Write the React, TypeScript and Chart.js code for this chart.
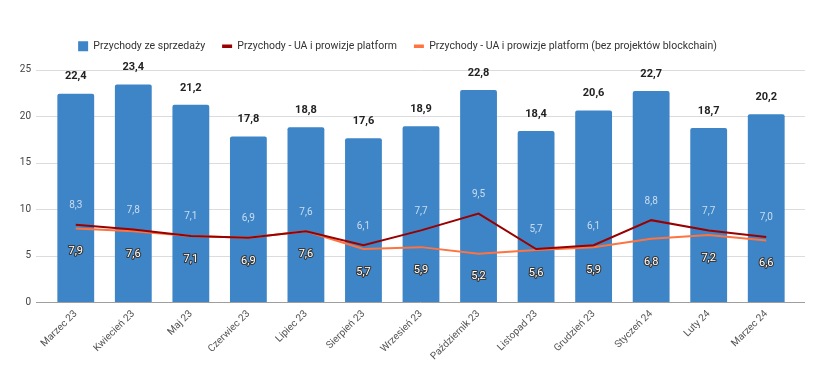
import React, { useEffect, useRef } from "react";
import { Chart, registerables } from "chart.js";

Chart.register(...registerables);

const categories = [
  "Marzec 23", "Kwiecień 23", "Maj 23", "Czerwiec 23", "Lipiec 23", "Sierpień 23",
  "Wrzesień 23", "Październik 23", "Listopad 23", "Grudzień 23", "Styczeń 24", "Luty 24", "Marzec 24",
];
const salesRevenue = [22.4, 23.4, 21.2, 17.8, 18.8, 17.6, 18.9, 22.8, 18.4, 20.6, 22.7, 18.7, 20.2];
const uaRevenue = [8.3, 7.8, 7.1, 6.9, 7.6, 6.1, 7.7, 9.5, 5.7, 6.1, 8.8, 7.7, 7.0];
const uaRevenueNoBlockchain = [7.9, 7.6, 7.1, 6.9, 7.6, 5.7, 5.9, 5.2, 5.6, 5.9, 6.8, 7.2, 6.6];
const yTicks = [0, 5, 10, 15, 20, 25];

const seriesNames = [
  "Przychody ze sprzedaży",
  "Przychody - UA i prowizje platform",
  "Przychody - UA i prowizje platform (bez projektów blockchain)",
];

const fmt = (v: number) => v.toFixed(1).replace(".", ",");
const FONT = "Roboto, 'Liberation Sans', Arial, sans-serif";

const gridPlugin = {
  id: "extGrid",
  beforeDatasetsDraw(chart: any) {
    const { ctx, chartArea, scales } = chart;
    const y = scales.y;
    ctx.save();
    for (const t of yTicks) {
      const py = Math.round(y.getPixelForValue(t)) + 0.5;
      ctx.beginPath();
      ctx.strokeStyle = t === 0 ? "#9e9e9e" : "#dcdcdc";
      ctx.lineWidth = 1;
      ctx.moveTo(chartArea.left - 11, py);
      ctx.lineTo(chartArea.right + 10, py);
      ctx.stroke();
    }
    ctx.restore();
  },
};

const labelPlugin = {
  id: "valueLabels",
  afterDatasetsDraw(chart: any) {
    const { ctx } = chart;
    ctx.save();
    ctx.textAlign = "center";
    ctx.textBaseline = "middle";
    const m0 = chart.getDatasetMeta(0);
    ctx.font = `bold 11px ${FONT}`;
    ctx.fillStyle = "#222222";
    m0.data.forEach((el: any, i: number) => {
      ctx.fillText(fmt(salesRevenue[i]), el.x, el.y - 17);
    });
    const m1 = chart.getDatasetMeta(1);
    ctx.font = `10px ${FONT}`;
    ctx.fillStyle = "rgba(225,234,248,0.85)";
    m1.data.forEach((el: any, i: number) => {
      ctx.fillText(fmt(uaRevenue[i]), el.x, el.y - 19);
    });
    const m2 = chart.getDatasetMeta(2);
    ctx.font = `11px ${FONT}`;
    ctx.lineJoin = "round";
    m2.data.forEach((el: any, i: number) => {
      const txt = fmt(uaRevenueNoBlockchain[i]);
      ctx.strokeStyle = "#3a3a3a";
      ctx.lineWidth = 2.2;
      ctx.strokeText(txt, el.x, el.y + 23);
      ctx.fillStyle = "#ffffff";
      ctx.fillText(txt, el.x, el.y + 23);
    });
    ctx.restore();
  },
};

export default function App() {
  const ref = useRef<HTMLCanvasElement | null>(null);
  useEffect(() => {
    document.body.style.margin = "0";
    if (!ref.current) return;
    const chart = new Chart(ref.current, {
      type: "bar",
      data: {
        labels: categories,
        datasets: [
          {
            type: "bar",
            label: seriesNames[0],
            data: salesRevenue,
            backgroundColor: "#3d85c6",
            borderRadius: 2,
            barPercentage: 0.64,
            categoryPercentage: 1,
            order: 3,
            pointStyle: "rect",
          } as any,
          {
            type: "line",
            label: seriesNames[1],
            data: uaRevenue,
            borderColor: "#990000",
            backgroundColor: "#990000",
            borderWidth: 2,
            pointRadius: 0,
            tension: 0,
            order: 1,
            pointStyle: "line",
          },
          {
            type: "line",
            label: seriesNames[2],
            data: uaRevenueNoBlockchain,
            borderColor: "#ff7340",
            backgroundColor: "#ff7340",
            borderWidth: 2,
            pointRadius: 0,
            tension: 0,
            order: 2,
            pointStyle: "line",
          },
        ],
      },
      options: {
        responsive: false,
        animation: false,
        layout: { padding: { top: 24, right: 18, left: 0, bottom: 0 } },
        plugins: {
          tooltip: { enabled: false },
          legend: {
            position: "top",
            labels: {
              usePointStyle: true,
              boxHeight: 10,
              pointStyleWidth: 10,
              padding: 17,
              color: "#333333",
              font: { family: FONT, size: 10.5 },
              sort: (a: any, b: any) => a.datasetIndex - b.datasetIndex,
              generateLabels: (c: any) => {
                const items = Chart.defaults.plugins.legend.labels.generateLabels(c);
                return items.map((it: any) =>
                  it.pointStyle === "line" ? { ...it, lineWidth: 3.5 } : { ...it, lineWidth: 0 }
                );
              },
            },
          },
        },
        scales: {
          x: {
            grid: { display: false, drawTicks: false },
            border: { display: false },
            afterFit: (s: any) => { s.height = 67; },
            ticks: {
              color: "#555555",
              font: { family: FONT, size: 10 },
              minRotation: 45,
              maxRotation: 45,
              autoSkip: false,
              padding: 6,
            },
          },
          xTop: {
            type: "category",
            position: "top",
            display: true,
            grid: { display: false, drawTicks: false },
            border: { display: false },
            ticks: { display: false },
            afterFit: (s: any) => { s.height = 8; },
          },
          y: {
            min: 0,
            max: 25,
            afterFit: (s: any) => { s.width = 47; },
            grid: { display: false, drawTicks: false },
            border: { display: false },
            ticks: {
              stepSize: 5,
              padding: 16,
              color: "#444444",
              font: { family: FONT, size: 10 },
            },
          },
        },
      } as any,
      plugins: [gridPlugin, labelPlugin],
    });
    return () => chart.destroy();
  }, []);
  return (
    <div style={{ position: "fixed", left: 0, top: 0, width: 813, height: 369 }}>
      <canvas ref={ref} width={813} height={369} />
    </div>
  );
}
